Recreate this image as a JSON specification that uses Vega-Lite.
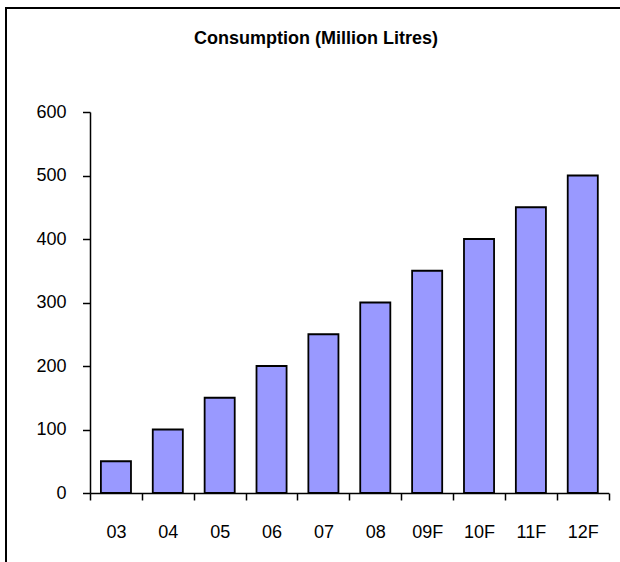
{
  "$schema": "https://vega.github.io/schema/vega-lite/v6.json",
  "autosize": "none",
  "padding": {"left": 6, "top": 8, "right": -10, "bottom": -10},
  "width": 624,
  "height": 564,
  "background": "white",
  "title": {
    "text": "Consumption (Million Litres)",
    "font": "Liberation Sans",
    "fontSize": 18,
    "fontWeight": "bold",
    "color": "black",
    "anchor": "middle",
    "frame": "group",
    "offset": -54,
    "dx": -2,
    "baseline": "alphabetic"
  },
  "data": {
    "values": [
      {"year": "03", "value": 50},
      {"year": "04", "value": 100},
      {"year": "05", "value": 150},
      {"year": "06", "value": 200},
      {"year": "07", "value": 250},
      {"year": "08", "value": 300},
      {"year": "09F", "value": 350},
      {"year": "10F", "value": 400},
      {"year": "11F", "value": 450},
      {"year": "12F", "value": 500}
    ]
  },
  "mark": {"type": "bar", "width": {"band": 0.58}, "fill": "#9999FF", "stroke": "black", "strokeWidth": 1.8},
  "encoding": {
    "x": {
      "field": "year",
      "type": "nominal",
      "sort": null,
      "scale": {"range": [84, 602.7], "paddingInner": 0, "paddingOuter": 0},
      "axis": {
        "title": null,
        "labelAngle": 0,
        "offset": -79,
        "tickBand": "extent",
        "tickSize": 7,
        "tickWidth": 1.5,
        "tickColor": "black",
        "domainColor": "black",
        "domainWidth": 1.5,
        "labelFont": "Liberation Sans",
        "labelFontSize": 18,
        "labelColor": "black",
        "labelPadding": 23.7
      }
    },
    "y": {
      "field": "value",
      "type": "quantitative",
      "scale": {"domain": [0, 600], "range": [485, 104], "nice": false},
      "axis": {
        "title": null,
        "values": [0, 100, 200, 300, 400, 500, 600],
        "offset": -84,
        "grid": false,
        "tickSize": 7.5,
        "tickWidth": 1.5,
        "tickColor": "black",
        "domainColor": "black",
        "domainWidth": 1.5,
        "labelFont": "Liberation Sans",
        "labelFontSize": 18,
        "labelColor": "black",
        "labelPadding": 16.5
      }
    }
  },
  "config": {
    "view": {"stroke": "black", "strokeWidth": 2, "fill": "white"}
  }
}
